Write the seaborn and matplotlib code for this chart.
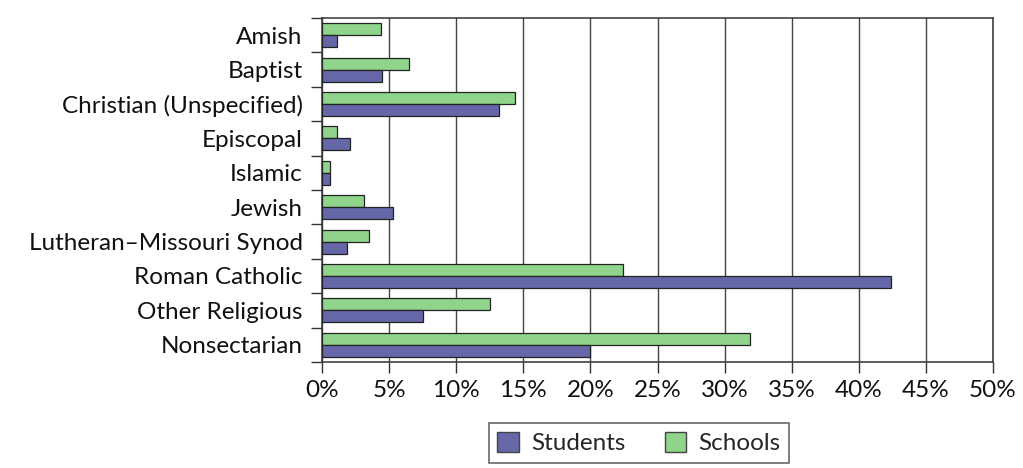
import matplotlib
matplotlib.use("Agg")
import matplotlib.pyplot as plt
import seaborn as sns
import pandas as pd
from matplotlib.patches import Patch
from matplotlib.ticker import FixedLocator, PercentFormatter

categories = ["Amish", "Baptist", "Christian (Unspecified)", "Episcopal", "Islamic",
              "Jewish", "Lutheran\u2013Missouri Synod", "Roman Catholic",
              "Other Religious", "Nonsectarian"]
schools = [4.4, 6.5, 14.4, 1.1, 0.6, 3.1, 3.5, 22.4, 12.5, 31.9]
students = [1.1, 4.5, 13.2, 2.1, 0.6, 5.3, 1.9, 42.4, 7.5, 20.0]

df = pd.DataFrame({
    "Religion": categories * 2,
    "Percent": schools + students,
    "Group": ["Schools"] * len(categories) + ["Students"] * len(categories),
})

green = "#8fd48a"
blue = "#6567a8"

sns.set_theme(style="white")
plt.rcParams["font.family"] = ["Lato", "DejaVu Sans"]

fig = plt.figure(figsize=(10.23, 4.68), dpi=100)
ax = fig.add_axes([322 / 1023, 1 - 362 / 468, (993 - 322) / 1023, (362 - 18) / 468])

sns.barplot(data=df, y="Religion", x="Percent", hue="Group",
            hue_order=["Schools", "Students"], order=categories,
            palette={"Schools": green, "Students": blue},
            orient="h", width=0.7, edgecolor="#222222", linewidth=0.9,
            saturation=1, ax=ax, legend=False, zorder=3)

ax.set_xlim(0, 50)
ax.set_ylim(len(categories) - 0.5, -0.5)
ax.set_xticks(range(0, 51, 5))
ax.xaxis.set_major_formatter(PercentFormatter(decimals=0))
ax.grid(axis="x", color="#444444", linewidth=1.0, zorder=0)
ax.set_axisbelow(True)
ax.set_xlabel("")
ax.set_ylabel("")

for side in ["top", "right", "bottom", "left"]:
    ax.spines[side].set_visible(True)
    ax.spines[side].set_color("#333333")
    ax.spines[side].set_linewidth(1.1)

ax.tick_params(axis="x", which="major", direction="out", length=8, width=1,
               color="#333333", labelsize=17.5, pad=5, bottom=True)
ax.tick_params(axis="y", which="major", length=0, labelsize=17.5, pad=14)
ax.yaxis.set_minor_locator(FixedLocator([i - 0.5 for i in range(len(categories) + 1)]))
ax.tick_params(axis="y", which="minor", direction="out", length=8, width=1,
               color="#333333", left=True)
for lab in ax.get_xticklabels() + ax.get_yticklabels():
    lab.set_color("#111111")

handles = [Patch(facecolor=blue, edgecolor="#444444", label="Students"),
           Patch(facecolor=green, edgecolor="#444444", label="Schools")]
leg = fig.legend(handles=handles, loc="center", bbox_to_anchor=(639 / 1023, 1 - 443 / 468),
                 ncol=2, frameon=True, fancybox=False, fontsize=17.5,
                 handlelength=0.9, handleheight=0.9, handletextpad=0.5,
                 columnspacing=1.6, borderpad=0.35)
leg.get_frame().set_edgecolor("#333333")
leg.get_frame().set_linewidth(1.1)

fig.savefig("out.png", dpi=100, facecolor="white")
